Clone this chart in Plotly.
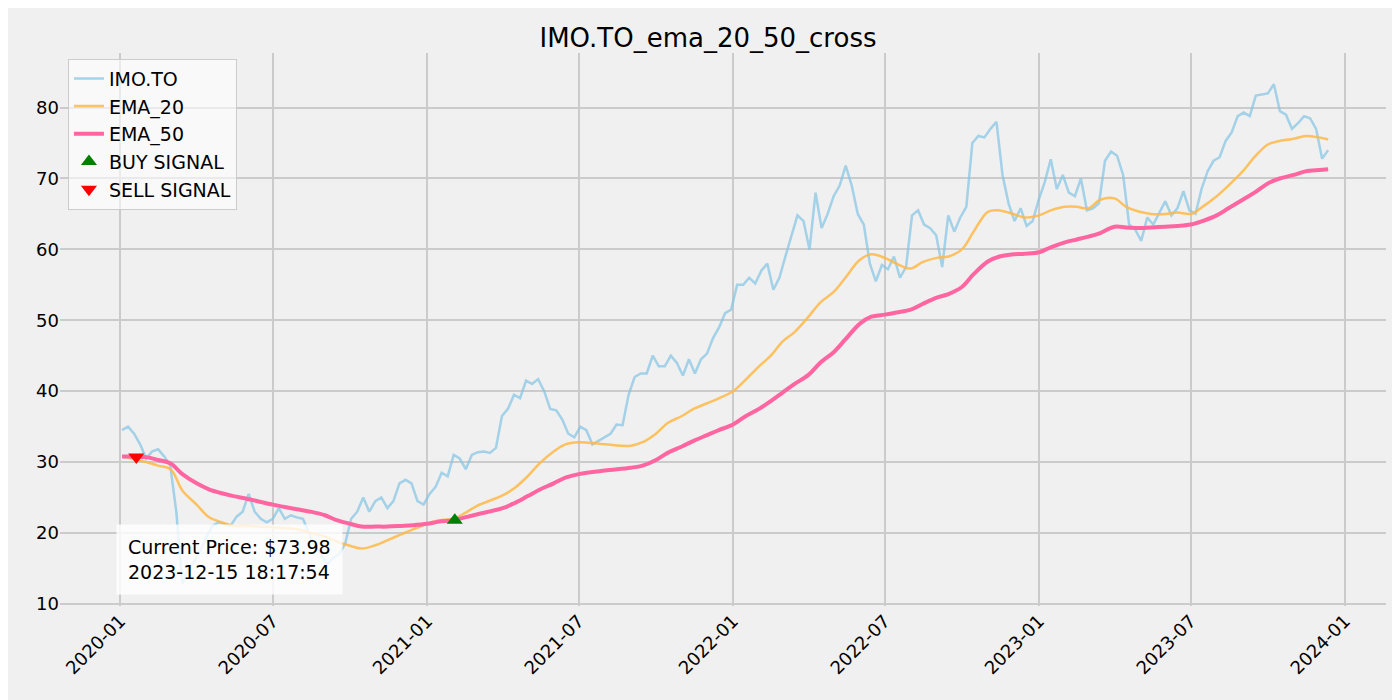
import pandas as pd
import plotly.graph_objects as go

# weekly closes
price = [34.5, 35, 34, 32.5, 30.5, 31.5, 31.8, 30.8, 29.5, 23, 12.8, 15, 16, 17.5, 19.5, 21,
         21.5, 21.2, 21, 22.3, 23, 25.5, 23, 22,
         21.5, 22, 23.5, 22, 22.5, 22.2, 22, 20, 18, 17, 15.5, 16.5, 17, 18.5, 22, 23, 25, 23,
         24.5, 25, 23.5, 24.5, 27, 27.5, 27, 24.5, 24, 25.5, 26.5, 28.5, 28, 31, 30.5, 29, 31,
         31.4, 31.5, 31.3, 32, 36.5, 37.5, 39.5, 39, 41.5, 41, 41.7, 40, 37.5, 37.3, 36, 34,
         33.5, 35, 34.5, 32.5, 33, 33.5, 34, 35.3, 35.2, 39.5, 42, 42.5, 42.5, 45, 43.5, 43.5,
         45, 44, 42.2, 44.5, 42.5, 44.5, 45.3, 47.5, 49, 51, 51.5, 55, 55, 56, 55.2, 57, 58,
         54.3, 56, 59, 62, 64.8, 64, 60, 68, 63, 65, 67.5, 69, 71.8, 69, 65, 63.5, 58, 55.5,
         57.8, 57.2, 59, 56, 57.5, 64.8, 65.5, 63.5, 63, 62, 57.5, 64.8, 62.5, 64.5, 66, 75,
         76, 75.8, 77, 78, 70.5, 66.5, 64, 65.8, 63.3, 64, 67, 69.5, 72.7, 68.5, 70.5, 68,
         67.5, 70, 65.5, 65.8, 66.5, 72.5, 73.8, 73.2, 70.5, 63.5, 62.8, 61.2, 64.5, 63.5,
         65.2, 66.8, 64.8, 65.8, 68.2, 65.5, 65, 68.5, 71, 72.5, 73, 75.3, 76.5, 78.8, 79.3,
         78.8, 81.7, 81.8, 82, 83.3, 79.5, 79, 77, 77.8, 78.8, 78.5, 77, 72.8, 74]
price_dates = pd.date_range("2020-01-03", "2023-12-12", periods=len(price))

ema_dates = ["2020-01-03", "2020-02-01", "2020-02-15", "2020-03-01", "2020-03-15", "2020-04-01",
             "2020-04-15", "2020-05-01", "2020-05-15", "2020-06-01", "2020-07-01", "2020-08-01",
             "2020-08-15", "2020-09-01", "2020-09-15", "2020-10-01", "2020-10-15", "2020-11-01",
             "2020-11-15", "2020-12-01", "2020-12-15", "2021-01-01", "2021-01-15", "2021-02-01",
             "2021-02-15", "2021-03-01", "2021-04-01", "2021-04-15", "2021-05-01", "2021-05-15",
             "2021-06-01", "2021-06-15", "2021-07-01", "2021-08-01", "2021-09-01", "2021-09-15",
             "2021-10-01", "2021-10-15", "2021-11-01", "2021-11-15", "2021-12-01", "2021-12-15",
             "2022-01-01", "2022-01-15", "2022-02-01", "2022-02-15", "2022-03-01", "2022-03-15",
             "2022-04-01", "2022-04-15", "2022-05-01", "2022-05-15", "2022-06-01", "2022-06-15",
             "2022-07-01", "2022-07-15", "2022-08-01", "2022-08-15", "2022-09-01", "2022-09-15",
             "2022-10-01", "2022-10-15", "2022-11-01", "2022-11-15", "2022-12-01", "2022-12-15",
             "2023-01-01", "2023-01-15", "2023-02-01", "2023-02-15", "2023-03-01", "2023-03-15",
             "2023-04-01", "2023-04-15", "2023-05-01", "2023-05-15", "2023-06-01", "2023-06-15",
             "2023-07-01", "2023-07-15", "2023-08-01", "2023-08-15", "2023-09-01", "2023-09-15",
             "2023-10-01", "2023-10-15", "2023-11-01", "2023-11-15", "2023-12-01", "2023-12-12"]

ema_20 = [30.8, 30, 29.5, 29, 26, 24, 22.3, 21.5, 21, 21, 20.8, 20.5, 20, 19.5, 18.8, 18.2,
          17.8, 18.3, 19, 19.8, 20.5, 21.3, 21.8, 22, 22.8, 23.8, 25.3, 26.3, 28, 29.8, 31.5,
          32.5, 32.8, 32.5, 32.3, 32.8, 34, 35.5, 36.5, 37.5, 38.3, 39, 40, 41.5, 43.5, 45, 47,
          48.3, 50.5, 52.5, 54, 56, 58.5, 59.3, 58.8, 58, 57.3, 58.2, 58.8, 59, 60, 62.5, 65.3,
          65.5, 65, 64.5, 64.8, 65.5, 66, 66, 65.8, 67, 67.2, 66, 65.3, 65, 65, 65.2, 65, 66,
          67.5, 69, 71, 73, 74.8, 75.3, 75.6, 76, 75.8, 75.5]

ema_50 = [30.8, 30.7, 30.3, 29.8, 28.3, 27, 26.2, 25.6, 25.2, 24.8, 24, 23.3, 23, 22.5, 21.8,
          21.3, 20.9, 20.9, 20.9, 21, 21.1, 21.3, 21.6, 21.8, 22.2, 22.6, 23.5, 24.2, 25.2,
          26.1, 27, 27.8, 28.3, 28.8, 29.2, 29.5, 30.3, 31.3, 32.2, 33, 33.8, 34.5, 35.3, 36.4,
          37.5, 38.6, 39.8, 41, 42.3, 44, 45.5, 47.3, 49.5, 50.5, 50.8, 51.1, 51.5, 52.3, 53.2,
          53.7, 54.7, 56.5, 58.3, 59, 59.3, 59.4, 59.6, 60.3, 61, 61.4, 61.8, 62.3, 63.2, 63.1,
          63, 63.1, 63.2, 63.3, 63.5, 64, 64.8, 65.8, 67, 68, 69.3, 70, 70.5, 71, 71.2, 71.3]

buy_dates = ["2021-02-03"]
buy_values = [21.8]
sell_dates = ["2020-01-20"]
sell_values = [30.7]

fig = go.Figure()
fig.add_trace(go.Scatter(x=price_dates, y=price, mode="lines", name="IMO.TO",
                         line=dict(color="rgba(130,195,228,0.7)", width=2.5)))
fig.add_trace(go.Scatter(x=ema_dates, y=ema_20, mode="lines", name="EMA_20", line_shape="spline",
                         line=dict(color="rgba(255,185,70,0.85)", width=2.5)))
fig.add_trace(go.Scatter(x=ema_dates, y=ema_50, mode="lines", name="EMA_50", line_shape="spline",
                         line=dict(color="#ff66a1", width=4)))
fig.add_trace(go.Scatter(x=buy_dates, y=buy_values, mode="markers", name="BUY SIGNAL",
                         marker=dict(symbol="triangle-up", color="green", size=14)))
fig.add_trace(go.Scatter(x=sell_dates, y=sell_values, mode="markers", name="SELL SIGNAL",
                         marker=dict(symbol="triangle-down", color="red", size=14)))

fig.add_annotation(x=0.042, y=0.02, xref="paper", yref="paper", xanchor="left", yanchor="bottom",
                   text="Current Price: $73.98<br>2023-12-15 18:17:54", showarrow=False, align="left",
                   font=dict(size=19, color="black"), bgcolor="rgba(255,255,255,0.8)", borderpad=11)

fig.update_layout(
    width=1400, height=700,
    paper_bgcolor="#f0f0f0", plot_bgcolor="#f0f0f0",
    font=dict(family="DejaVu Sans", size=18, color="black"),
    title=dict(text="IMO.TO_ema_20_50_cross", x=0.5, y=0.97, font=dict(size=26)),
    margin=dict(l=52, r=22, t=45, b=102),
    legend=dict(x=0.006, y=0.99, bgcolor="rgba(255,255,255,0.6)", bordercolor="#cccccc",
                borderwidth=1, font=dict(size=19)),
    showlegend=True,
)
fig.update_xaxes(range=["2019-10-21", "2024-02-19"], dtick="M6", tick0="2020-01-01",
                 tickformat="%Y-%m", tickangle=-45, gridcolor="#cbcbcb", gridwidth=1.5,
                 showline=False, zeroline=False, ticks="")
fig.update_yaxes(range=[9.7, 87.7], dtick=10, gridcolor="#cbcbcb", gridwidth=1.5,
                 zeroline=False, showline=False)

fig.write_html("out.html")
